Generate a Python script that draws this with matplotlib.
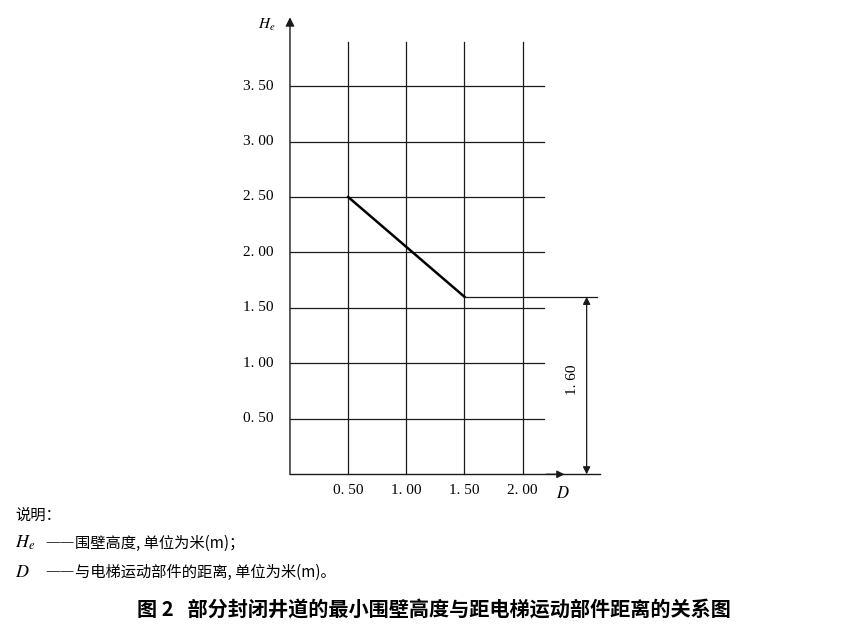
import matplotlib
matplotlib.use("Agg")
import matplotlib.pyplot as plt

plt.rcParams["mathtext.fontset"] = "stix"

# 数据
D = [0.5, 1.5]
He = [2.5, 1.6]
x_ticks = [0.5, 1.0, 1.5, 2.0]
x_labels = ["0. 50", "1. 00", "1. 50", "2. 00"]
y_ticks = [0.5, 1.0, 1.5, 2.0, 2.5, 3.0, 3.5]
y_labels = ["0. 50", "1. 00", "1. 50", "2. 00", "2. 50", "3. 00", "3. 50"]
dim_value = "1. 60"

serif = ["Liberation Serif", "Noto Sans CJK SC"]
cjk = ["Noto Sans CJK SC", "DejaVu Sans"]
ink = "#1a1a1a"

fig = plt.figure(figsize=(8.41, 6.3), dpi=100)
ax = fig.add_axes([0.3448, 0.2471, 0.3735, 0.7396])
ax.set_xlim(0, 2.7)
ax.set_ylim(0, 4.2)
ax.axis("off")

# 网格
for x in x_ticks:
    ax.plot([x, x], [0, 3.9], color=ink, lw=0.9, clip_on=False)
for y in y_ticks:
    ax.plot([0, 2.18], [y, y], color=ink, lw=0.9, clip_on=False)

# 坐标轴
ax.plot([0, 2.664], [0, 0], color=ink, lw=1.0, clip_on=False)
ax.annotate("", xy=(0, 4.12), xytext=(0, 0),
            arrowprops=dict(arrowstyle="-|>", color=ink, lw=1.0,
                            mutation_scale=13, shrinkA=0, shrinkB=0))
ax.annotate("", xy=(2.36, 0), xytext=(2.2, 0),
            arrowprops=dict(arrowstyle="-|>", color=ink, lw=1.0,
                            mutation_scale=11, shrinkA=0, shrinkB=0))

# 曲线
ax.plot(D, He, color="black", lw=1.8, clip_on=False)
ax.plot([D[-1], 2.64], [He[-1], He[-1]], color=ink, lw=0.9, clip_on=False)

# 尺寸线
ax.annotate("", xy=(2.55, He[-1]), xytext=(2.55, 0),
            arrowprops=dict(arrowstyle="<|-|>", color=ink, lw=0.9,
                            mutation_scale=11, shrinkA=0, shrinkB=0))
ax.text(2.43, 0.85, dim_value, rotation=90, ha="center", va="center",
        fontsize=11, family=serif)

# 刻度标签
for x, lab in zip(x_ticks, x_labels):
    ax.text(x, -0.15, lab, ha="center", va="center", fontsize=11, family=serif)
for y, lab in zip(y_ticks, y_labels):
    ax.text(-0.14, y, lab, ha="right", va="center", fontsize=11, family=serif)

ax.text(2.35, -0.17, "$D$", ha="center", va="center", fontsize=12)
ax.text(-0.2, 4.05, "$H_e$", ha="center", va="center", fontsize=11)

# 说明
fig.text(15 / 841, 1 - 515 / 630, "说明：", ha="left", va="center",
         fontsize=11, family=cjk, weight="light")
for y_px, sym, desc in [(543, "$H_e$", "围壁高度, 单位为米(m)；"),
                        (572, "$D$", "与电梯运动部件的距离, 单位为米(m)。")]:
    fig.text(15 / 841, 1 - y_px / 630, sym, ha="left", va="center", fontsize=13)
    fig.text(45 / 841, 1 - y_px / 630, "——", ha="left", va="center",
             fontsize=10.5, family="DejaVu Sans", weight="light")
    fig.text(75 / 841, 1 - y_px / 630, desc, ha="left", va="center",
             fontsize=11, family=cjk, weight="light")

fig.text(434 / 841, 1 - 610 / 630,
         "图 2   部分封闭井道的最小围壁高度与距电梯运动部件距离的关系图",
         ha="center", va="center", fontsize=14.5, family=cjk, weight="bold")

fig.savefig("out.png", dpi=100)
